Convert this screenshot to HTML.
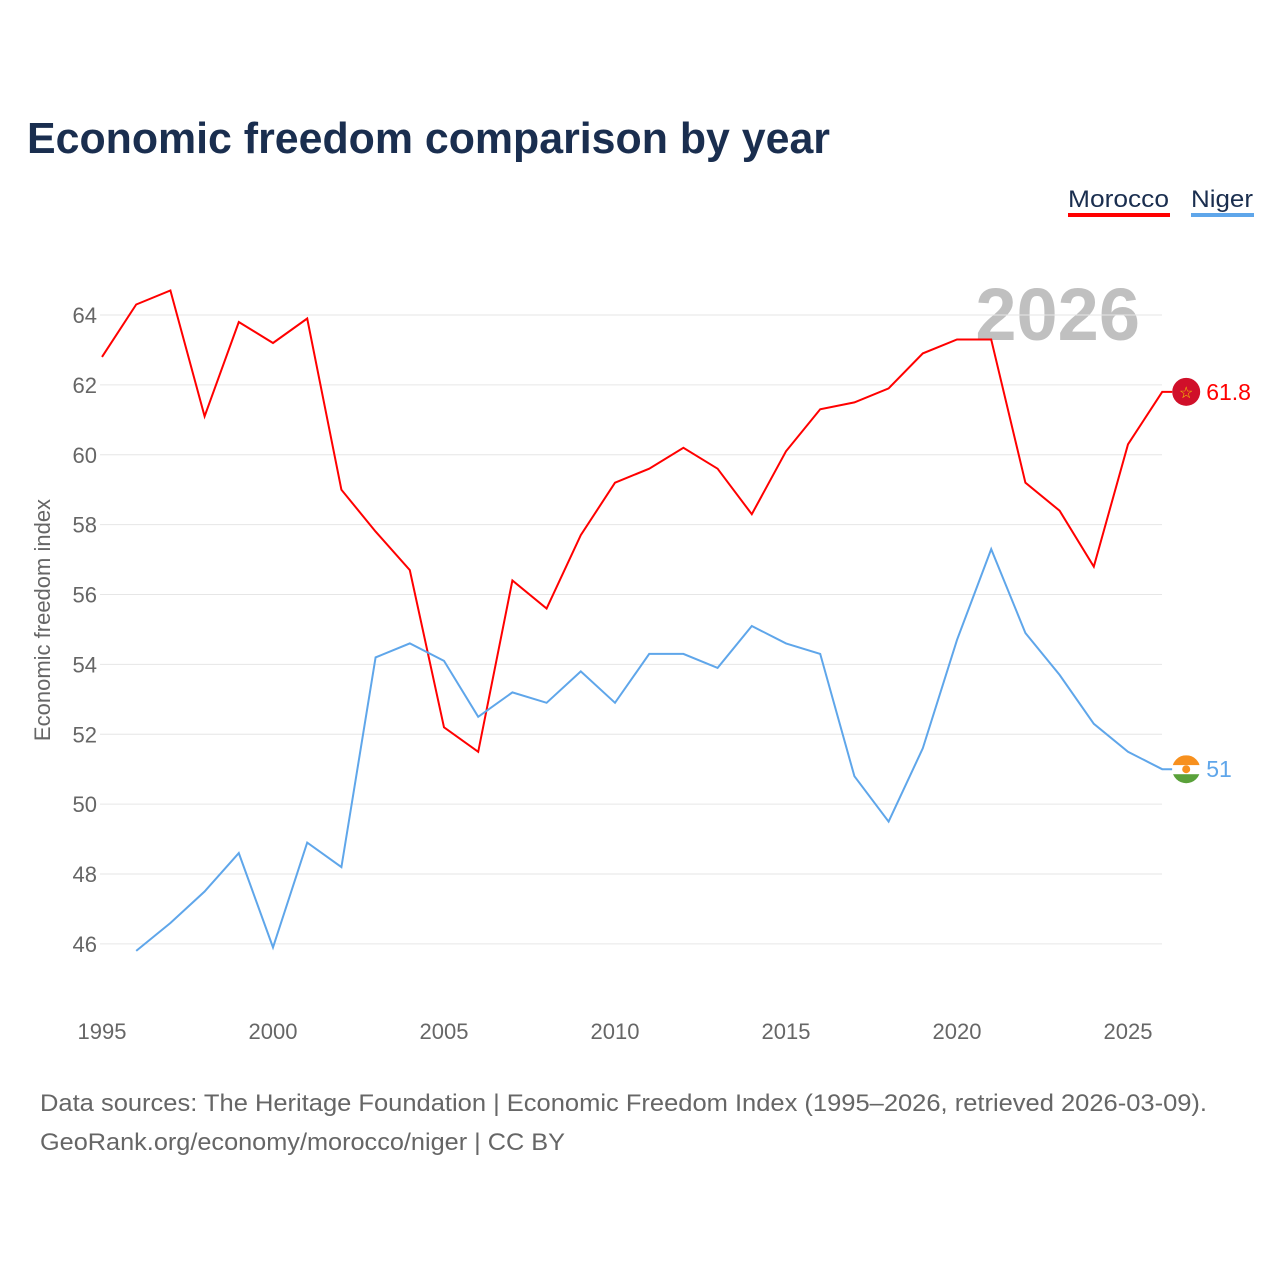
<!DOCTYPE html>
<html><head><meta charset="utf-8"><style>
body{margin:0;background:#fff;font-family:"Liberation Sans",sans-serif}
</style></head><body>
<svg width="1280" height="1280" xmlns="http://www.w3.org/2000/svg" style="font-family:'Liberation Sans',sans-serif">
<text x="27" y="153" font-size="44" font-weight="bold" fill="#1a2e4f" textLength="803" lengthAdjust="spacingAndGlyphs">Economic freedom comparison by year</text>
<g>
<text x="1068" y="207" font-size="24" fill="#1a2e4f" textLength="101" lengthAdjust="spacingAndGlyphs">Morocco</text>
<rect x="1068" y="213" width="102" height="4" fill="#f00"/>
<text x="1191" y="207" font-size="24" fill="#1a2e4f" textLength="62" lengthAdjust="spacingAndGlyphs">Niger</text>
<rect x="1191" y="213" width="63" height="4" fill="#5fa6ea"/>
</g>
<text x="1140" y="340" font-size="74" font-weight="bold" fill="#c0c0c0" text-anchor="end">2026</text>
<g id="grid"></g><g id="yt"></g><g id="xt"></g><g id="lines"></g>
<text transform="translate(50,620) rotate(-90)" font-size="22" fill="#666" text-anchor="middle">Economic freedom index</text>
<text x="40" y="1111" font-size="24" fill="#666" textLength="1167" lengthAdjust="spacingAndGlyphs">Data sources: The Heritage Foundation | Economic Freedom Index (1995–2026, retrieved 2026-03-09).</text>
<text x="40" y="1150" font-size="24" fill="#666" textLength="525" lengthAdjust="spacingAndGlyphs">GeoRank.org/economy/morocco/niger | CC BY</text>
</svg>
<script>
const years=[];for(let y=1995;y<=2026;y++)years.push(y);
const morocco=[62.8,64.3,64.7,61.1,63.8,63.2,63.9,59.0,57.8,56.7,52.2,51.5,56.4,55.6,57.7,59.2,59.6,60.2,59.6,58.3,60.1,61.3,61.5,61.9,62.9,63.3,63.3,59.2,58.4,56.8,60.3,61.8];
const niger=[null,45.8,46.6,47.5,48.6,45.9,48.9,48.2,54.2,54.6,54.1,52.5,53.2,52.9,53.8,52.9,54.3,54.3,53.9,55.1,54.6,54.3,50.8,49.5,51.6,54.7,57.3,54.9,53.7,52.3,51.5,51.0];
const yTicks=[46,48,50,52,54,56,58,60,62,64];
const xTicks=[1995,2000,2005,2010,2015,2020,2025];
const NS="http://www.w3.org/2000/svg";
const X=v=>102+(v-1995)*34.2, Y=v=>315+(64-v)*34.94;
function mk(t,a,p){const e=document.createElementNS(NS,t);for(const k in a)e.setAttribute(k,a[k]);document.getElementById(p).appendChild(e);return e;}
yTicks.forEach(v=>{
 const l=mk('line',{x1:100,x2:1162,y1:Y(v),y2:Y(v),stroke:'#e6e6e6','stroke-width':1},'grid');
 
 
 const t=mk('text',{x:97,y:Y(v)+8,'font-size':22,fill:'#666','text-anchor':'end'},'yt');t.textContent=v;
 
 
});
xTicks.forEach(v=>{
 const t=mk('text',{x:X(v),y:1039,'font-size':22,fill:'#666','text-anchor':'middle'},'xt');t.textContent=v;
 
 
});
function path(d){let s='';d.forEach((v,i)=>{if(v==null)return;s+=(s?'L':'M')+X(years[i]).toFixed(1)+','+Y(v).toFixed(1);});return s;}
const lm=morocco[morocco.length-1], ln=niger[niger.length-1];
const fx=X(2026)+24;
const pm=mk('path',{d:path(morocco)+'L'+(fx-14)+','+Y(lm).toFixed(1),fill:'none',stroke:'#f00','stroke-width':2},'lines');


const pn=mk('path',{d:path(niger)+'L'+(fx-14)+','+Y(ln).toFixed(1),fill:'none',stroke:'#5fa6ea','stroke-width':2},'lines');


const c1=mk('circle',{cx:fx,cy:Y(lm),r:14,fill:'#d0102a'},'lines');


const st=mk('text',{x:fx,y:Y(lm)+6,'font-size':16,fill:'#f5d000','text-anchor':'middle'},'lines');st.textContent='☆';
const t1=mk('text',{x:fx+20,y:Y(lm)+8,'font-size':23,fill:'#f00'},'lines');t1.textContent=lm;


const g=mk('g',{},'lines');


const cy=Y(ln);
g.innerHTML=`<clipPath id="cp"><circle cx="${fx}" cy="${cy}" r="14"/></clipPath><g clip-path="url(#cp)"><rect x="${fx-14}" y="${cy-14}" width="28" height="10" fill="#f7901e"/><rect x="${fx-14}" y="${cy-4}" width="28" height="9" fill="#fff"/><rect x="${fx-14}" y="${cy+5}" width="28" height="10" fill="#5aa13a"/><circle cx="${fx}" cy="${cy}" r="4" fill="#f7901e"/></g>`;
const t2=mk('text',{x:fx+20,y:cy+8,'font-size':23,fill:'#5fa6ea'},'lines');t2.textContent=ln;


</script>
</body></html>
